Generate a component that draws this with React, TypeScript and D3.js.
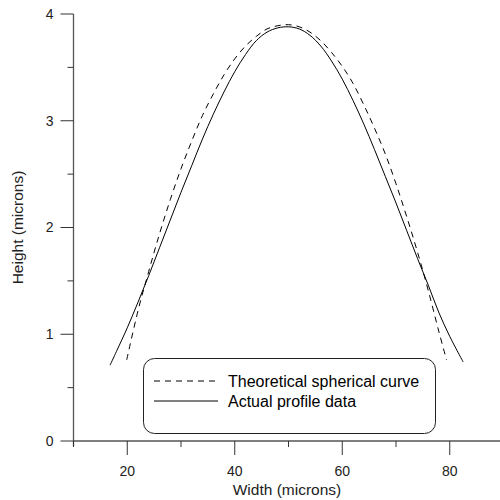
import * as d3 from 'd3';

// theoretical spherical curve (dashed)
const theoryX = [19.9, 22, 24, 26, 28, 30, 32, 34, 36, 38, 40, 42, 44, 46, 48, 50, 52, 54, 56, 58, 60, 62, 64, 66, 68, 70, 72, 74, 76, 78, 79.4];
const theoryY = [0.76, 1.22, 1.59, 1.94, 2.26, 2.55, 2.81, 3.05, 3.25, 3.43, 3.58, 3.7, 3.79, 3.86, 3.89, 3.9, 3.88, 3.83, 3.75, 3.64, 3.51, 3.35, 3.15, 2.93, 2.69, 2.41, 2.1, 1.77, 1.41, 1.02, 0.76];

// actual profile data (solid)
const actualX = [16.8, 18, 20, 22, 24, 26, 28, 30, 32, 34, 36, 38, 40, 42, 44, 46, 48, 50, 52, 54, 56, 58, 60, 62, 64, 66, 68, 70, 72, 74, 76, 78, 80, 82.5];
const actualY = [0.71, 0.84, 1.06, 1.3, 1.55, 1.81, 2.07, 2.33, 2.58, 2.83, 3.06, 3.27, 3.46, 3.62, 3.75, 3.83, 3.87, 3.88, 3.86, 3.8, 3.7, 3.56, 3.39, 3.19, 2.97, 2.73, 2.48, 2.23, 1.97, 1.71, 1.46, 1.2, 0.98, 0.74];

const xMajor = [20, 40, 60, 80];
const xMinor = [10, 30, 50, 70];
const yMajor = [0, 1, 2, 3, 4];
const yMinor = [0.5, 1.5, 2.5, 3.5];

const legendLabels = ['Theoretical spherical curve', 'Actual profile data'];

export default function App() {
  const x = d3.scaleLinear().domain([10, 90]).range([73.5, 503.5]);
  const y = d3.scaleLinear().domain([0, 4]).range([441, 14]);

  const line = d3.line<[number, number]>()
    .x(d => x(d[0]))
    .y(d => y(d[1]))
    .curve(d3.curveCatmullRom);

  const theory = theoryX.map((v, i) => [v, theoryY[i]] as [number, number]);
  const actual = actualX.map((v, i) => [v, actualY[i]] as [number, number]);

  const x0 = x(10);
  const y0 = y(0);
  const font = 'Arial, "Liberation Sans", sans-serif';

  return (
    <svg width={500} height={500} style={{ position: 'absolute', left: 0, top: 0, background: '#fff' }} fontFamily={font}>
      {/* axes */}
      <line x1={x0} x2={500} y1={y0} y2={y0} stroke="#555" strokeWidth={1.3} />
      <line x1={x0} x2={x0} y1={y(4)} y2={y0 + 5} stroke="#555" strokeWidth={1.3} />

      {xMajor.map(t => (
        <g key={'xm' + t}>
          <line x1={x(t)} x2={x(t)} y1={y0} y2={y0 + 14} stroke="#333" />
          <text x={x(t)} y={y0 + 35} textAnchor="middle" fontSize={14} fill="#222">{t}</text>
        </g>
      ))}
      {xMinor.map(t => (
        <line key={'xn' + t} x1={x(t)} x2={x(t)} y1={y0} y2={y0 + 6} stroke="#333" />
      ))}
      {yMajor.map(t => (
        <g key={'ym' + t}>
          <line x1={x0 - 13} x2={x0} y1={y(t)} y2={y(t)} stroke="#333" />
          <text x={x0 - 20} y={y(t)} dy="0.35em" textAnchor="end" fontSize={14} fill="#222">{t}</text>
        </g>
      ))}
      {yMinor.map(t => (
        <line key={'yn' + t} x1={x0 - 6} x2={x0} y1={y(t)} y2={y(t)} stroke="#333" />
      ))}

      <text x={287} y={495} textAnchor="middle" fontSize={15.5} fill="#222">Width (microns)</text>
      <text transform={`translate(23,${y(2)}) rotate(-90)`} textAnchor="middle" fontSize={15.5} fill="#222">Height (microns)</text>

      {/* curves */}
      <path d={line(theory) ?? ''} fill="none" stroke="#000" strokeWidth={1} strokeDasharray="6,5" />
      <path d={line(actual) ?? ''} fill="none" stroke="#000" strokeWidth={1} />

      {/* legend */}
      <rect x={143.5} y={358.5} width={292} height={75} rx={11} fill="#fff" stroke="#222" strokeWidth={1} />
      <line x1={154} x2={218} y1={381} y2={381} stroke="#000" strokeDasharray="6,5" />
      <line x1={154} x2={218} y1={401} y2={401} stroke="#000" />
      {legendLabels.map((l, i) => (
        <text key={l} x={228} y={381 + i * 20} dy="0.35em" fontSize={16} fill="#000">{l}</text>
      ))}
    </svg>
  );
}
